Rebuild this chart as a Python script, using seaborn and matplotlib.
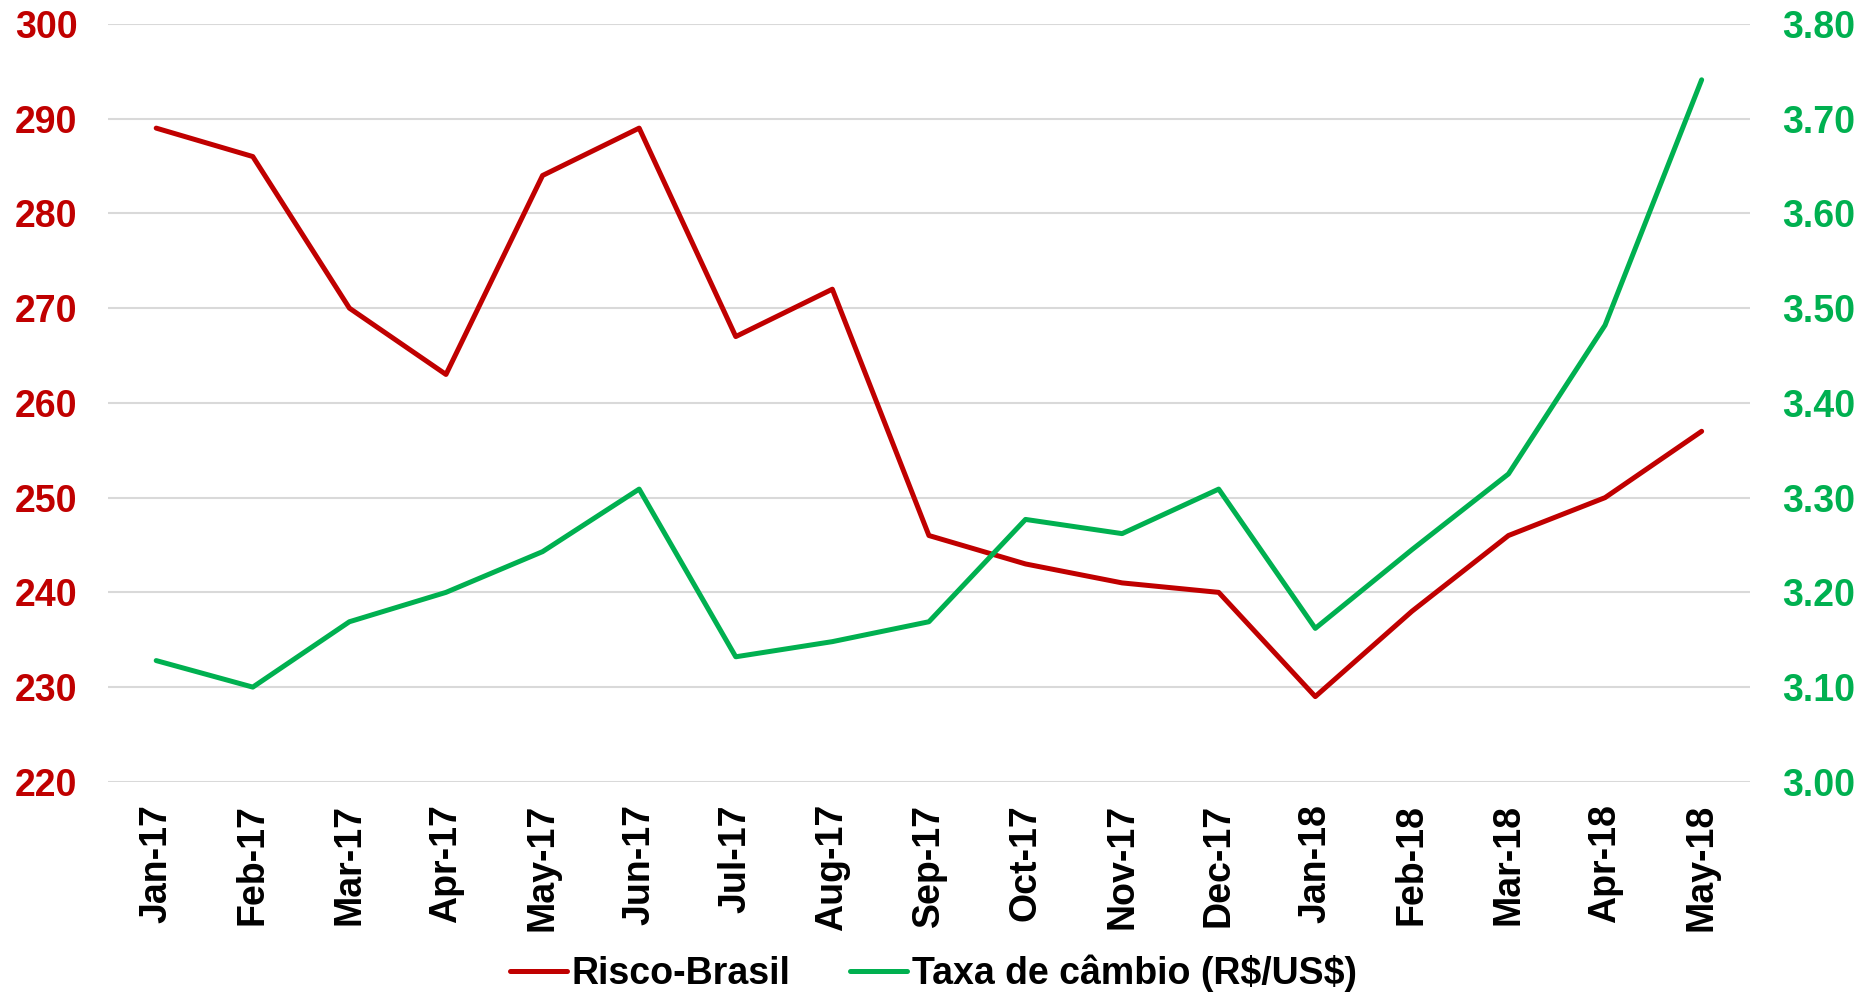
import matplotlib
matplotlib.use("Agg")
import matplotlib.pyplot as plt
import seaborn as sns
import pandas as pd

months = ["Jan-17", "Feb-17", "Mar-17", "Apr-17", "May-17", "Jun-17", "Jul-17", "Aug-17",
          "Sep-17", "Oct-17", "Nov-17", "Dec-17", "Jan-18", "Feb-18", "Mar-18", "Apr-18", "May-18"]
risco_brasil = [289, 286, 270, 263, 284, 289, 267, 272, 246, 243, 241, 240, 229, 238, 246, 250, 257]
taxa_cambio = [3.128, 3.100, 3.169, 3.200, 3.243, 3.309, 3.132, 3.148, 3.169, 3.277, 3.262,
               3.309, 3.162, 3.245, 3.325, 3.482, 3.741]
left_ticks = [220, 230, 240, 250, 260, 270, 280, 290, 300]
right_ticks = [3.00, 3.10, 3.20, 3.30, 3.40, 3.50, 3.60, 3.70, 3.80]

RED = "#C00000"
GREEN = "#00B050"

sns.set_theme(style="white")
plt.rcParams["font.family"] = ["Liberation Sans", "DejaVu Sans"]
plt.rcParams["font.weight"] = "bold"
plt.rcParams["text.color"] = "black"

df = pd.DataFrame({"x": range(len(months)), "risco": risco_brasil, "taxa": taxa_cambio})

fig = plt.figure(figsize=(18.67, 9.96), dpi=100)
ax = fig.add_axes([0.0578, 0.215, 0.8795, 0.761])
ax2 = ax.twinx()

sns.lineplot(data=df, x="x", y="risco", ax=ax, color=RED, linewidth=3.6,
             label="Risco-Brasil", legend=False)
sns.lineplot(data=df, x="x", y="taxa", ax=ax2, color=GREEN, linewidth=3.6,
             label="Taxa de câmbio (R\\$/US\\$)", legend=False)

ax.set_xlim(-0.5, len(months) - 0.5)
ax.set_ylim(220, 300)
ax2.set_ylim(3.0, 3.8)
ax.set_yticks(left_ticks)
ax.set_yticklabels([str(v) for v in left_ticks])
ax2.set_yticks(right_ticks)
ax2.set_yticklabels([f"{v:.2f}" for v in right_ticks])
ax.set_xticks(range(len(months)))
ax.set_xticklabels(months, rotation=90)

ax.grid(axis="y", color="#d9d9d9", linewidth=1.5)
ax.grid(axis="x", visible=False)
ax2.grid(False)
ax.set_axisbelow(True)

for a in (ax, ax2):
    for s in a.spines.values():
        s.set_visible(False)
    a.set_xlabel("")
    a.set_ylabel("")

ax.tick_params(axis="y", length=0, pad=22, labelsize=27, labelcolor=RED)
ax2.tick_params(axis="y", length=0, pad=23, labelsize=27, labelcolor=GREEN)
ax.tick_params(axis="x", length=0, pad=16, labelsize=27, labelcolor="black")
for lbl in ax.get_yticklabels() + ax2.get_yticklabels() + ax.get_xticklabels():
    lbl.set_fontweight("bold")

h1, l1 = ax.get_legend_handles_labels()
h2, l2 = ax2.get_legend_handles_labels()
leg = fig.legend(h1 + h2, l1 + l2, loc="lower center", bbox_to_anchor=(0.5, 0.004), ncol=2,
                 frameon=False, prop={"weight": "bold", "size": 27}, handlelength=1.5,
                 handletextpad=0.13, columnspacing=1.6, borderpad=0, borderaxespad=0,
                 labelcolor="black")

fig.savefig("out.png", dpi=100)
